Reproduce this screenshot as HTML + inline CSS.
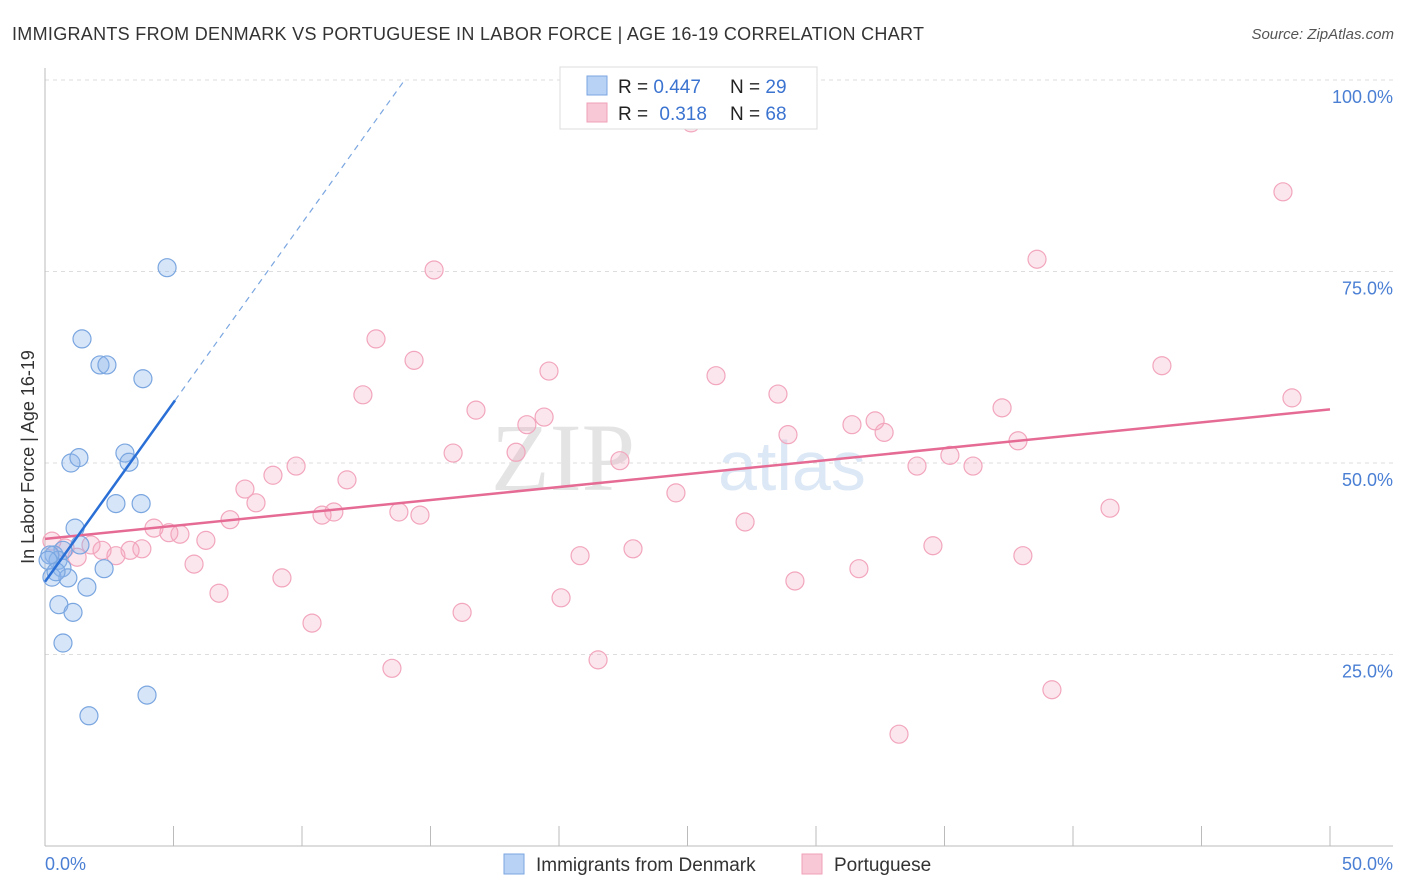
<!DOCTYPE html>
<html><head><meta charset="utf-8"><style>
body{margin:0;background:#fff;font-family:"Liberation Sans",sans-serif}
svg{display:block}
</style></head><body>
<svg id="c" width="1406" height="892">
<text x="12" y="40" font-size="18" fill="#333" textLength="912">IMMIGRANTS FROM DENMARK VS PORTUGUESE IN LABOR FORCE | AGE 16-19 CORRELATION CHART</text>
<text x="1394" y="39" font-size="15" fill="#555" font-style="italic" text-anchor="end">Source: ZipAtlas.com</text>
<g id="grid"></g>
<text x="635" y="490" font-size="96" fill="#e4e4e4" font-family="Liberation Serif,serif" text-anchor="end">ZIP</text>
<text x="718" y="490" font-size="70" fill="#dce8f5">atlas</text>
<g id="pts"></g>
<g id="lines"></g>
<text transform="translate(34,457) rotate(-90)" font-size="18" fill="#333" text-anchor="middle">In Labor Force | Age 16-19</text>
<text x="45" y="870" font-size="18" fill="#4a7fd4">0.0%</text>
<text x="1393" y="870" font-size="18" fill="#4a7fd4" text-anchor="end">50.0%</text>
<g>
<rect x="560" y="67" width="257" height="62" fill="#fff" stroke="#ddd"/>
<rect x="587" y="76" width="20" height="19" fill="#b8d2f5" stroke="#7aa6e0"/>
<rect x="587" y="103" width="20" height="19" fill="#f9c8d6" stroke="#f0a0b8"/>
<text x="618" y="93" font-size="19" fill="#222">R = <tspan fill="#3b73d0">0.447</tspan></text>
<text x="730" y="93" font-size="19" fill="#222">N = <tspan fill="#3b73d0">29</tspan></text>
<text x="618" y="120" font-size="19" fill="#222">R = <tspan fill="#3b73d0" dx="6">0.318</tspan></text>
<text x="730" y="120" font-size="19" fill="#222">N = <tspan fill="#3b73d0">68</tspan></text>
</g>
<g>
<rect x="504" y="854" width="20" height="20" fill="#b8d2f5" stroke="#7aa6e0"/>
<text x="536" y="871" font-size="19" fill="#333">Immigrants from Denmark</text>
<rect x="802" y="854" width="20" height="20" fill="#f9c8d6" stroke="#f0a0b8"/>
<text x="834" y="871" font-size="19" fill="#333">Portuguese</text>
</g>
</svg>
<script>
const yTicks=[25,50,75,100];
const yTickLabels=["25.0%","50.0%","75.0%","100.0%"];
const blueX=[4.75,1.44,2.14,2.41,3.81,3.11,3.27,1.01,1.32,2.76,3.74,1.17,1.36,0.70,0.35,0.51,0.19,0.66,2.30,0.89,0.27,1.63,0.54,1.09,0.70,3.97,1.71,0.12,0.43];
const blueY=[75.5,66.2,62.8,62.8,61.0,51.3,50.1,50.0,50.7,44.7,44.7,41.5,39.3,38.6,38.0,37.3,38.0,36.3,36.2,35.0,35.1,33.8,31.5,30.5,26.5,19.7,17.0,37.3,35.8];
const pinkX=[25.14,48.17,38.60,15.14,12.88,14.36,43.46,19.61,26.11,12.37,28.52,48.52,16.77,37.24,19.42,18.75,31.40,32.30,32.65,28.91,37.86,15.88,18.33,35.21,22.37,9.77,33.93,36.11,11.75,8.87,7.78,8.21,24.55,41.44,11.24,10.78,13.77,14.59,7.20,4.24,4.82,5.25,27.24,6.26,34.55,22.88,2.22,3.31,3.77,0.27,0.78,1.79,2.76,1.25,20.82,38.05,5.80,9.22,29.18,31.67,6.77,20.08,16.23,10.39,21.52,13.50,39.18,33.23];
const pinkY=[94.4,85.4,76.6,75.2,66.2,63.4,62.7,62.0,61.4,58.9,59.0,58.5,56.9,57.2,56.0,55.0,55.0,55.5,54.0,53.7,52.9,51.3,51.4,51.0,50.3,49.6,49.6,49.6,47.8,48.4,46.6,44.8,46.1,44.1,43.6,43.2,43.6,43.2,42.6,41.5,40.9,40.7,42.3,39.9,39.2,38.8,38.6,38.6,38.8,39.8,38.9,39.3,37.9,37.7,37.9,37.9,36.8,35.0,34.6,36.2,33.0,32.4,30.5,29.1,24.3,23.2,20.4,14.6];
const blueTrend=[34.5,4.68];   // intercept, slope
const pinkTrend=[40.1,0.338];
const NS="http://www.w3.org/2000/svg";
const X=v=>45+v/50*1285, Y=v=>846-v/100*766;
function mk(t,a,p){const e=document.createElementNS(NS,t);for(const k in a)e.setAttribute(k,a[k]);p.appendChild(e);return e;}
const g=document.getElementById('grid');
yTicks.forEach((t,i)=>{
 const l=mk('line',{x1:45,x2:1393,y1:Y(t),y2:Y(t),stroke:'#ddd','stroke-dasharray':'4,4'},g);
 
 
 const tx=mk('text',{x:1393,y:Y(t)+23,'font-size':18,fill:'#4a7fd4','text-anchor':'end'},g);
 tx.textContent=yTickLabels[i];
 
 
});
const ax=mk('line',{x1:45,x2:45,y1:68,y2:846,stroke:'#bbb'},g);


const bx=mk('line',{x1:45,x2:1393,y1:846,y2:846,stroke:'#bbb'},g);


for(let v=5;v<=50;v+=5){const t=mk('line',{x1:X(v),x2:X(v),y1:826,y2:846,stroke:'#bbb'},g);
 
 }
const P=document.getElementById('pts');
pinkX.forEach((x,i)=>{const c=mk('circle',{cx:X(x),cy:Y(pinkY[i]),r:9,fill:'rgba(244,165,192,0.28)',stroke:'#f2a6bd','stroke-width':1.2},P);
 
 });
blueX.forEach((x,i)=>{const c=mk('circle',{cx:X(x),cy:Y(blueY[i]),r:9,fill:'rgba(140,180,235,0.35)',stroke:'#7aa6e0','stroke-width':1.2},P);
 
 });
const L=document.getElementById('lines');
const pl=mk('line',{x1:X(0),y1:Y(pinkTrend[0]),x2:X(50),y2:Y(pinkTrend[0]+50*pinkTrend[1]),stroke:'#e56b95','stroke-width':2.5},L);


const bs=mk('line',{x1:X(0),y1:Y(blueTrend[0]),x2:X(5.06),y2:Y(blueTrend[0]+5.06*blueTrend[1]),stroke:'#2a6fd6','stroke-width':2.5},L);


const xe=(100-blueTrend[0])/blueTrend[1];
const bd=mk('line',{x1:X(5.06),y1:Y(blueTrend[0]+5.06*blueTrend[1]),x2:X(xe),y2:Y(100),stroke:'#7aa6e0','stroke-width':1.2,'stroke-dasharray':'6,5'},L);


</script>
</body></html>
